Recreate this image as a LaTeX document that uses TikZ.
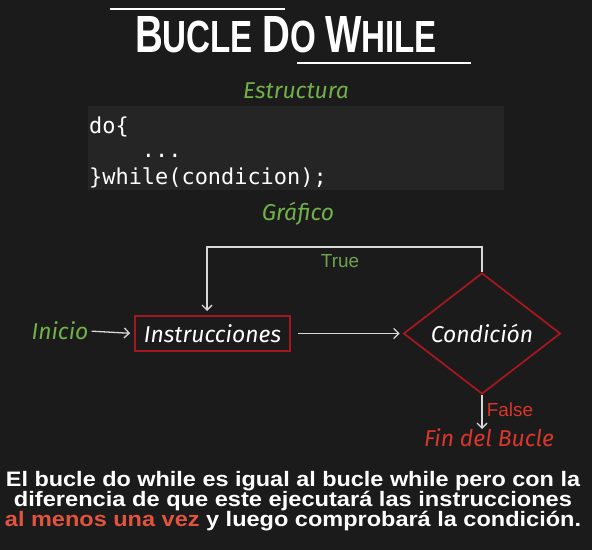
\documentclass[tikz,border=0pt]{standalone}
\usepackage{fontspec}
\usepackage{graphicx}
\setmainfont{Liberation Sans}
\newfontfamily\handfont{Fira Sans}
\newfontfamily\codefont{DejaVu Sans Mono}
\usetikzlibrary{shapes.geometric,arrows.meta}
\definecolor{bgc}{HTML}{1B1B1B}
\definecolor{codebg}{HTML}{252525}
\definecolor{hgreen}{HTML}{72B04A}
\definecolor{tgreen}{HTML}{6FA352}
\definecolor{boxred}{HTML}{A3181E}
\definecolor{fred}{HTML}{D9362C}
\definecolor{lred}{HTML}{E0533D}
\definecolor{linec}{HTML}{D8D8D8}
\setlength{\lineskiplimit}{-100pt}
\tikzset{
  hand/.style={inner sep=0pt, font=\handfont\itshape\fontsize{23}{23}\selectfont},
  plain/.style={inner sep=0pt, font=\fontsize{19}{19}\selectfont},
  arr/.style={draw=linec, line width=1.3bp, -{Straight Barb[length=5bp,width=10bp]}},
  redbox/.style={draw=boxred, line width=1.8bp, minimum width=155bp, minimum height=35bp, inner sep=0pt},
  reddiam/.style={diamond, draw=boxred, line width=1.8bp, minimum width=157bp, minimum height=121bp, inner sep=0pt},
  codeline/.style={anchor=base west, inner sep=0pt, text=white, font=\codefont\fontsize{22}{22}\selectfont},
  bottext/.style={anchor=north, inner sep=0pt, text=white, align=center,
    font=\bfseries\fontsize{21}{20}\selectfont}
}
\begin{document}
\begin{tikzpicture}[x=1bp,y=-1bp]
\useasboundingbox (0,0) rectangle (592,550);
\fill[bgc] (0,0) rectangle (592,550);
% title
\draw[white, line width=2bp] (110,9) -- (285,9);
\draw[white, line width=2bp] (297,63) -- (471,63);
\node[anchor=base, inner sep=0pt, text=white] (title) at (286,53)
  {\resizebox{302bp}{36bp}{\bfseries\fontsize{36}{36}\selectfont B\fontsize{31}{31}\selectfont UCLE \fontsize{36}{36}\selectfont D\fontsize{31}{31}\selectfont O \fontsize{36}{36}\selectfont W\fontsize{31}{31}\selectfont HILE}};
\node[hand, text=hgreen] (estr) at (296,91) {Estructura};
% code box
\fill[codebg] (88,106) rectangle (504,190);
\node[codeline] (c1) at (89,134) {do\{};
\node[codeline] (c2) at (89,158) {\ \ \ \ ...};
\node[codeline] (c3) at (89,185) {\}while(condicion);};
\node[hand, text=hgreen] (graf) at (298,214) {Gráfico};
% flowchart
\node[hand, text=hgreen] (inicio) at (60,331) {Inicio};
\node[redbox, hand, text=white] (instr) at (212.5,333.5) {Instrucciones};
\node[reddiam, hand, text=white] (cond) at (482,333.5) {Condición};
\node[plain, text=tgreen] (true) at (340,261) {True};
\node[plain, text=fred] (false) at (510,410) {False};
\node[hand, text=fred] (fin) at (489,438) {Fin del Bucle};
\coordinate (loopr) at (482,247);
\coordinate (loopl) at (207,247);
\coordinate (instrtop) at (207,316);
\coordinate (finarr) at (482,429);
\draw[arr, shorten <=3bp, shorten >=4bp] (inicio.east) -- (instr.west);
\draw[arr, shorten <=7bp, shorten >=3bp] (instr.east) -- (cond.west);
\draw[arr, shorten >=5bp] (cond.north) -- (loopr) -- (loopl) -- (instrtop);
\draw[arr] (cond.south) -- (finarr);
% bottom text
\node[bottext] (bot) at (293,471) {%
  \resizebox{574bp}{\height}{El bucle do while es igual al bucle while pero con la}\\
  \resizebox{558bp}{\height}{diferencia de que este ejecutará las instrucciones}\\
  \resizebox{576bp}{\height}{\textcolor{lred}{al menos una vez} y luego comprobará la condición.}};
\end{tikzpicture}
\end{document}
